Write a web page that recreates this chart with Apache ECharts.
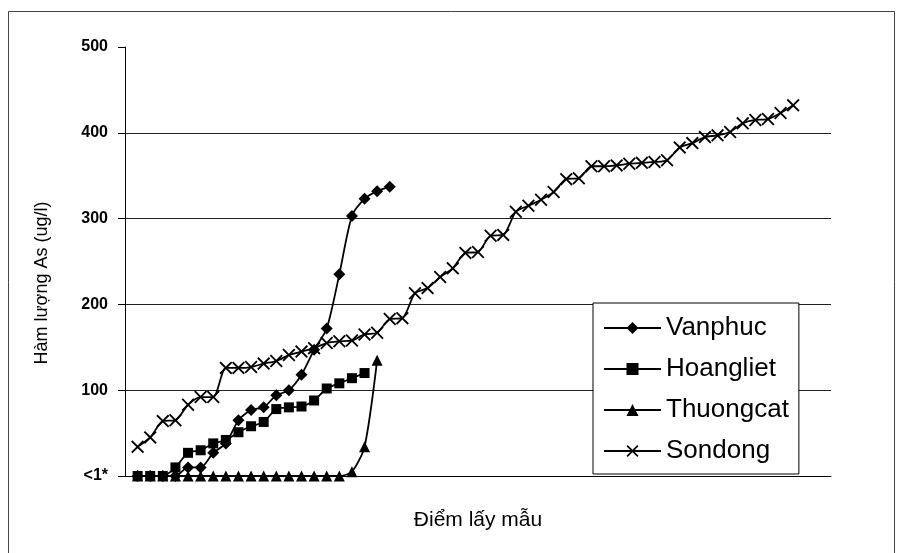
<!DOCTYPE html>
<html>
<head>
<meta charset="utf-8">
<title>Hàm lượng As</title>
<script src="https://cdn.jsdelivr.net/npm/echarts@6/dist/echarts.min.js"></script>
<style>
  html, body { margin: 0; padding: 0; background: #fff; }
  #chart { width: 901px; height: 553px; }
</style>
</head>
<body>
<div id="chart"></div>
<script>
// sample points, in order along the x axis (index 0, 1, 2 ...)
const seriesNames = ['Vanphuc', 'Hoangliet', 'Thuongcat', 'Sondong']
const vanphuc = [0, 0, 0, 0, 10, 10, 27, 38, 65, 77, 80, 94, 100, 118, 147, 172, 235, 303, 323, 332, 337]
const hoangliet = [0, 0, 0, 10, 27, 30, 38, 42, 51, 58, 63, 78, 80, 81, 88, 102, 108, 114, 120]
const thuongcat = [0, 0, 0, 0, 0, 0, 0, 0, 0, 0, 0, 0, 0, 0, 0, 0, 0, 5, 34, 135]
const sondong = [34, 45, 64, 65, 83, 92, 92, 126, 126, 127, 131, 134, 141, 145, 149, 155, 157, 158, 165, 167,
  183, 184, 213, 219, 232, 242, 260, 261, 280, 281, 308, 315, 322, 331, 346, 347, 361, 361, 362, 364,
  365, 366, 368, 383, 388, 395, 397, 401, 411, 415, 416, 423, 432]
const yTickLabels = ['<1*', '100', '200', '300', '400', '500']

const font = 'Liberation Sans, Arial, sans-serif'
// X mark for Sondong (filled outline so it renders like a stroke)
const crossPath = 'path://M0,1L1,0L5,4L9,0L10,1L6,5L10,9L9,10L5,6L1,10L0,9L4,5Z'

function toPoints(arr) {
  return arr.map((v, i) => [i, v])
}

function lineSeries(name, data, symbol, size) {
  return {
    name: name,
    type: 'line',
    data: toPoints(data),
    symbol: symbol,
    symbolSize: size,
    smooth: 0.25,
    showAllSymbol: true,
    lineStyle: { color: '#000', width: 1.8 },
    itemStyle: { color: '#000', borderColor: '#000', borderWidth: 0 }
  }
}

const chart = echarts.init(document.getElementById('chart'))
chart.setOption({
  animation: false,
  backgroundColor: '#fff',
  textStyle: { fontFamily: font, color: '#000' },
  grid: { left: 125, right: 70, top: 47, bottom: 77 },
  legend: {
    orient: 'vertical',
    left: 593,
    top: 303,
    padding: [12, 10, 10, 10],
    itemGap: 15,
    itemWidth: 57,
    itemHeight: 15,
    backgroundColor: '#fff',
    borderColor: '#000',
    borderWidth: 1,
    borderRadius: 0,
    textStyle: { fontSize: 26, color: '#000', fontFamily: font },
    data: seriesNames
  },
  xAxis: {
    type: 'value',
    min: -1,
    max: 55,
    name: 'Điểm lấy mẫu',
    nameLocation: 'middle',
    nameGap: 34,
    nameTextStyle: { fontSize: 21, color: '#000', fontFamily: font },
    axisLine: { show: true, onZero: true, lineStyle: { color: '#000', width: 1 } },
    axisTick: { show: false },
    axisLabel: { show: false },
    splitLine: { show: false }
  },
  yAxis: {
    type: 'value',
    min: 0,
    max: 500,
    interval: 100,
    axisLine: { show: true, onZero: false, lineStyle: { color: '#000', width: 1 } },
    axisTick: { show: true, length: 7, lineStyle: { color: '#000' } },
    axisLabel: {
      margin: 17,
      fontSize: 16,
      fontWeight: 'bold',
      color: '#000',
      fontFamily: font,
      formatter: v => yTickLabels[Math.round(v / 100)]
    },
    splitLine: { show: true, showMinLine: false, showMaxLine: false, lineStyle: { color: '#222', width: 1 } }
  },
  graphic: [
    {
      // frame round the whole chart
      type: 'rect',
      shape: { x: 8.5, y: 11.5, width: 886, height: 600 },
      style: { fill: 'none', stroke: '#444', lineWidth: 1 },
      silent: true
    },
    {
      type: 'text',
      x: 42,
      y: 283,
      rotation: Math.PI / 2,
      style: {
        text: 'Hàm lượng As (ug/l)',
        font: '18px ' + font,
        fill: '#000',
        align: 'center',
        verticalAlign: 'middle'
      }
    }
  ],
  series: [
    lineSeries('Vanphuc', vanphuc, 'diamond', 12),
    lineSeries('Hoangliet', hoangliet, 'rect', 10),
    lineSeries('Thuongcat', thuongcat, 'triangle', 11),
    lineSeries('Sondong', sondong, crossPath, 13)
  ]
})
</script>
</body>
</html>
